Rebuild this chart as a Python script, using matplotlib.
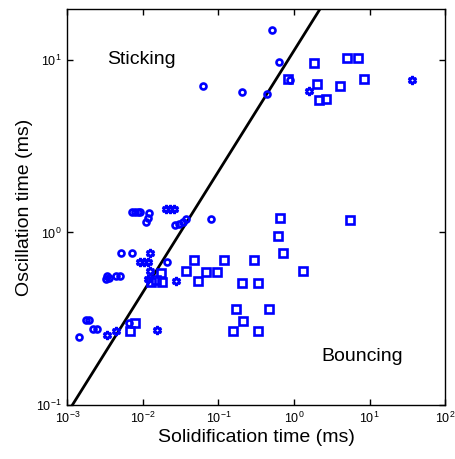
import matplotlib
matplotlib.use("Agg")
import matplotlib.pyplot as plt
import numpy as np

plt.rcParams['font.family'] = ['Liberation Sans', 'DejaVu Sans']
plt.rcParams['mathtext.default'] = 'regular'

# Sticking drops (circles)
circle_x = [0.508, 0.637, 0.063, 0.207, 0.441, 0.90, 0.080,
            0.0072, 0.0078, 0.0085, 0.0092,
            0.0121, 0.01175, 0.01106,
            0.0268, 0.0303, 0.0342, 0.0375,
            0.0051, 0.0072, 0.021,
            0.00326, 0.00336, 0.00357, 0.00443, 0.0050,
            0.00177, 0.00194, 0.00221, 0.0025, 0.00144, 0.00664]
circle_y = [14.9, 9.7, 7.04, 6.53, 6.33, 7.63, 1.19,
            1.31, 1.32, 1.31, 1.31,
            1.289, 1.22, 1.143,
            1.105, 1.12, 1.15, 1.20,
            0.756, 0.756, 0.673,
            0.534, 0.556, 0.541, 0.556, 0.56,
            0.309, 0.309, 0.275, 0.275, 0.249, 0.300]

# Transitional drops (hexagrams)
star_x = [1.59, 37.0, 0.0126, 0.0092, 0.0104, 0.01175,
          0.0204, 0.0230, 0.0260, 0.0277, 0.0034, 0.00443, 0.0153,
          0.0125, 0.0118]
star_y = [6.56, 7.67, 0.763, 0.676, 0.676, 0.676,
          1.36, 1.36, 1.36, 0.525, 0.255, 0.268, 0.272,
          0.594, 0.540]

# Bouncing drops (squares)
square_x = [0.83, 1.82, 4.97, 7.1, 8.35, 1.99, 4.1, 2.13, 2.67,
            0.65, 5.6, 0.617, 0.72, 0.0469, 0.120, 0.293, 1.30,
            0.069, 0.0957, 0.053, 0.207, 0.331, 0.169, 0.469,
            0.214, 0.156, 0.331, 0.0367, 0.0079, 0.00686,
            0.0175, 0.0150, 0.0180, 0.0129]
square_y = [7.77, 9.53, 10.2, 10.2, 7.7, 7.23, 7.04, 5.87, 5.95,
            1.205, 1.185, 0.952, 0.759, 0.691, 0.691, 0.691, 0.600,
            0.587, 0.587, 0.525, 0.507, 0.507, 0.358, 0.358,
            0.305, 0.267, 0.267, 0.600, 0.300, 0.270,
            0.579, 0.527, 0.513, 0.513]

# Regime boundary: t_osc = A * t_sol ** B
boundary_A = 11.3
boundary_B = 0.7
boundary_x = np.logspace(-3, 2, 50)
boundary_y = boundary_A * boundary_x ** boundary_B

x_ticks = [1e-3, 1e-2, 1e-1, 1e0, 1e1, 1e2]
y_ticks = [1e-1, 1e0, 1e1]

fig = plt.figure(figsize=(4.56, 4.59), dpi=100)
ax = fig.add_axes([0.1476, 0.1176, 0.8284, 0.8628])

blue = '#0000ff'
ax.plot(boundary_x, boundary_y, color='black', lw=2.0, zorder=3)
ax.plot(circle_x, circle_y, ls='none', marker='o', ms=4.3, mew=1.9,
        mec=blue, mfc='none', zorder=4)
ax.plot(square_x, square_y, ls='none', marker='s', ms=5.4, mew=1.9,
        mec=blue, mfc='none', zorder=4)
ax.plot(star_x, star_y, ls='none', marker=(6, 1, 0), ms=6.0, mew=1.9,
        mec=blue, mfc='none', zorder=4)

ax.set_xscale('log')
ax.set_yscale('log')
ax.set_xlim(1e-3, 1e2)
ax.set_ylim(1e-1, 19.7)
ax.set_xticks(x_ticks)
ax.set_yticks(y_ticks)
ax.minorticks_off()
ax.tick_params(which='major', direction='in', top=True, right=True,
               length=4, width=1.0, labelsize=9, pad=4)
for s in ax.spines.values():
    s.set_linewidth(1.0)

ax.set_xlabel('Solidification time (ms)', fontsize=14, labelpad=2)
ax.set_ylabel('Oscillation time (ms)', fontsize=14, labelpad=2)

ax.text(0.0095, 10.0, 'Sticking', fontsize=14, ha='center', va='center')
ax.text(8.1, 0.191, 'Bouncing', fontsize=14, ha='center', va='center')

fig.savefig('out.png', dpi=100)
